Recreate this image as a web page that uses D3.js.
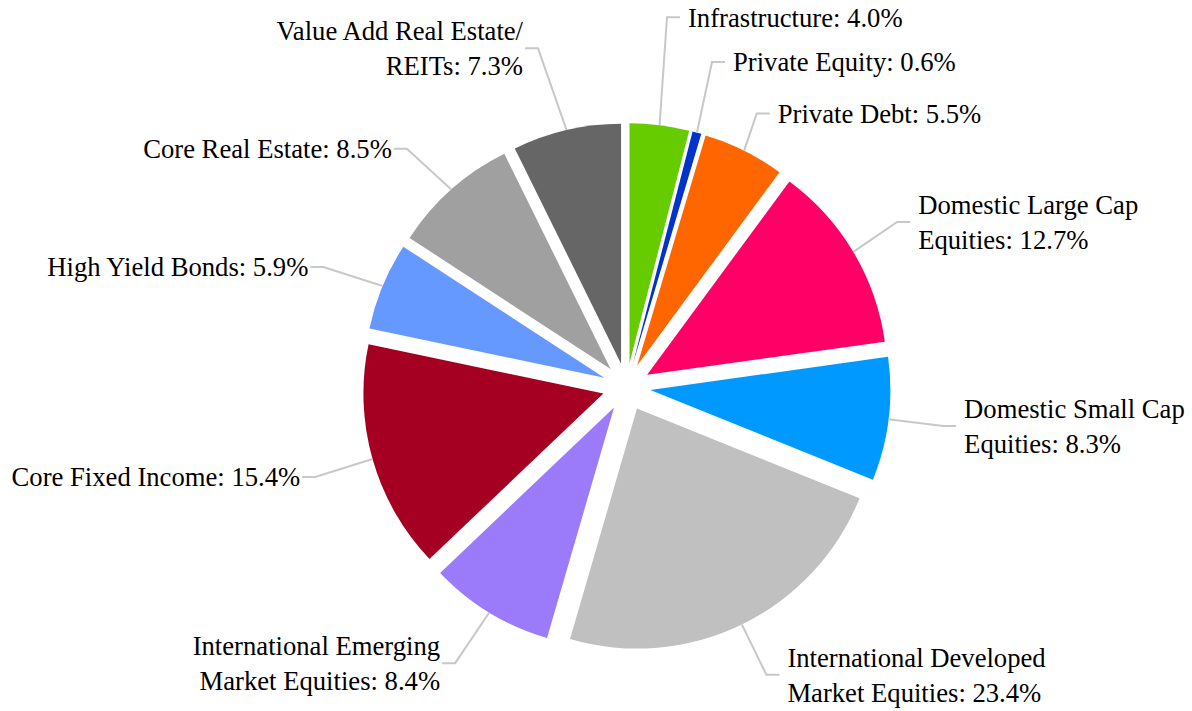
<!DOCTYPE html>
<html><head><meta charset="utf-8">
<script src="https://cdn.jsdelivr.net/npm/d3@7"></script>
<style>
html,body{margin:0;padding:0;background:#fff;overflow:hidden;}
svg{display:block;}
</style>
</head><body><svg id="chart" width="1192" height="711"></svg>
<script>
// ---- data ----
const categories = [
  "Infrastructure", "Private Equity", "Private Debt",
  "Domestic Large Cap Equities", "Domestic Small Cap Equities",
  "International Developed Market Equities", "International Emerging Market Equities",
  "Core Fixed Income", "High Yield Bonds", "Core Real Estate", "Value Add Real Estate/ REITs"
];
const values = [4.0, 0.6, 5.5, 12.7, 8.3, 23.4, 8.4, 15.4, 5.9, 8.5, 7.3];
const colors = ["#66cc00", "#0033cc", "#ff6600", "#ff0066", "#0099ff", "#c0c0c0",
                "#9b7bfa", "#a50021", "#6699ff", "#a0a0a0", "#666666"];

// ---- label layout (leader elbow: radius from centre, angle shift from slice bisector in degrees) ----
const labelRadius = [372, 336, 303, 317, 319, 320, 325, 324, 326, 324, 350];
const labelAngleShift = [-0.95, -0.74, -1.0, -0.6, 0, 0, 0.5, -0.3, -0.9, -1.1, -1.5];

const cx = 626.5, cy = 387, R = 240, explode = 24;
const fontSize = 26.67, lineH = 35, maxLabelW = 298, leg = 13;
const FONT = '"Liberation Serif"';

const svg = d3.select("#chart");
const data = categories.map((c, i) => ({name: c, value: values[i], color: colors[i], i}));
const pie = d3.pie().sort(null).value(d => d.value).startAngle(0).endAngle(2 * Math.PI);
const arcs = pie(data);
const arcGen = d3.arc().innerRadius(0).outerRadius(R);

const g = svg.append("g").attr("transform", `translate(${cx},${cy})`);

const mid = a => (a.startAngle + a.endAngle) / 2;
const polar = (ang, r) => [r * Math.sin(ang), -r * Math.cos(ang)];

g.selectAll("path.slice").data(arcs).join("path")
  .attr("class", "slice")
  .attr("d", arcGen)
  .attr("fill", d => d.data.color)
  .attr("transform", d => { const [x, y] = polar(mid(d), explode); return `translate(${x},${y})`; });

// measuring for word wrap
const meas = svg.append("text")
  .style("font-family", FONT).style("font-size", fontSize + "px").attr("visibility", "hidden");
function wrap(str) {
  const words = str.split(" ");
  const lines = [];
  let cur = "";
  words.forEach(w => {
    const test = cur ? cur + " " + w : w;
    meas.text(test);
    if (cur && meas.node().getComputedTextLength() > maxLabelW) { lines.push(cur); cur = w; }
    else cur = test;
  });
  if (cur) lines.push(cur);
  return lines;
}

const labels = svg.append("g");
arcs.forEach((a, k) => {
  const m = mid(a);
  const [sx, sy] = polar(m, R + explode);
  const la = m + labelAngleShift[k] * Math.PI / 180;
  const [ex, ey] = polar(la, labelRadius[k]);
  const right = Math.sin(la) > 0;
  const lx = right ? ex + leg : ex - leg;
  labels.append("polyline")
    .attr("points", `${cx + sx},${cy + sy} ${cx + ex},${cy + ey} ${cx + lx},${cy + ey}`)
    .attr("fill", "none").attr("stroke", "#c8c8c8").attr("stroke-width", 2);
  const txt = `${a.data.name}: ${a.data.value.toFixed(1)}%`;
  const lines = wrap(txt);
  const tx = cx + (right ? lx + 8 : lx - 2);
  const y0 = cy + ey - (lines.length - 1) * lineH / 2 + 0.35 * fontSize;
  lines.forEach((ln, j) => {
    labels.append("text")
      .style("font-family", FONT).style("font-size", fontSize + "px")
      .attr("fill", "#000")
      .attr("text-anchor", right ? "start" : "end")
      .attr("x", tx).attr("y", y0 + j * lineH)
      .text(ln);
  });
});
meas.remove();
</script>
</body></html>
